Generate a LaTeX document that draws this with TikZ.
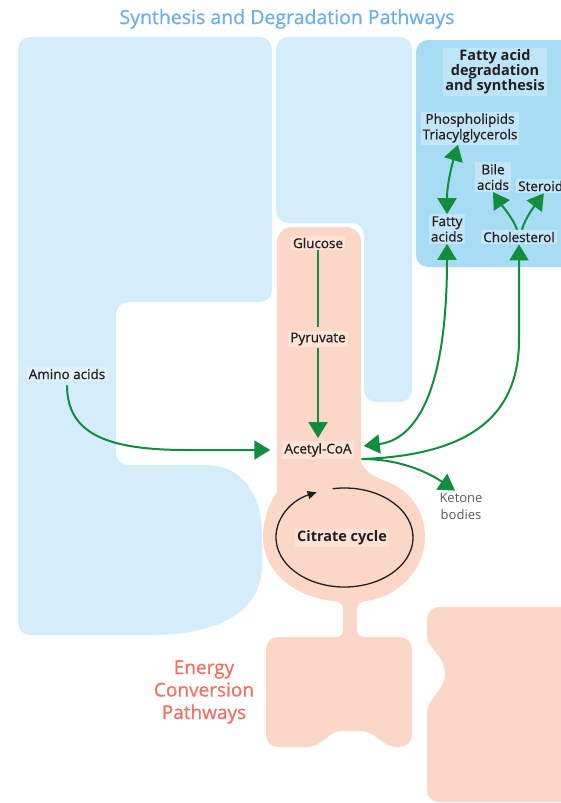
\documentclass[tikz,border=0pt]{standalone}
\usepackage{fontspec}
\setmainfont{Open Sans}
\newfontfamily\medfont[FakeBold=0.8]{Open Sans}
\usetikzlibrary{arrows.meta,positioning}

\definecolor{paleblue}{RGB}{213,236,250}
\definecolor{fabox}{RGB}{168,220,245}
\definecolor{salmon}{RGB}{251,215,200}
\definecolor{titleblue}{RGB}{108,176,226}
\definecolor{ecred}{RGB}{240,112,100}
\definecolor{flowgreen}{RGB}{16,142,62}
\definecolor{ink}{RGB}{35,31,32}
\definecolor{ketgrey}{RGB}{90,90,90}

\begin{document}
\begin{tikzpicture}
     [x=1pt, y=-1pt,
      every node/.style={text=ink, align=center, inner sep=2pt},
      lbl/.style={font=\medfont\fontsize{13.5}{15.5}\selectfont, fill=white, fill opacity=.3, text opacity=1},
      hdr/.style={font=\bfseries\fontsize{14.5}{15}\selectfont, fill=white, fill opacity=.25, text opacity=1},
      ttl/.style={font=\medfont\fontsize{19.5}{21}\selectfont, text=titleblue},
      ecp/.style={font=\medfont\fontsize{19}{22.5}\selectfont, text=ecred},
      ket/.style={font=\fontsize{13}{17}\selectfont, text=ketgrey},
      flow/.style={draw=flowgreen, line width=2pt},
      tip/.style={-{Triangle[length=16pt,width=19pt]}},
      tips/.style={{Triangle[length=16pt,width=19pt]}-{Triangle[length=16pt,width=19pt]}},
      cyc/.style={draw=ink, line width=1.3pt, -{Triangle[length=9pt,width=8pt]}}]
     %[semithick, x=1cm, y=1cm, >=latex]
   \useasboundingbox (0,0) rectangle (561,803);
   \clip (0,0) rectangle (561,803);

   % synthesis and degradation panels
   \fill[paleblue] (18,49) arc[start angle=180,end angle=270,radius=12] -- (260,37)
     arc[start angle=270,end angle=360,radius=12] -- (272,290)
     arc[start angle=0,end angle=90,radius=12] -- (128,302)
     arc[start angle=270,end angle=180,radius=12] -- (116,453)
     arc[start angle=180,end angle=90,radius=12] -- (205,465)
     .. controls (243,465) and (262,495) .. (262,535) -- (262,565)
     .. controls (262,612) and (218,635) .. (150,635) -- (30,635)
     arc[start angle=90,end angle=180,radius=12] -- cycle;
   \fill[paleblue] (276,49) arc[start angle=180,end angle=270,radius=12] -- (400,37)
     arc[start angle=270,end angle=360,radius=12] -- (412,390)
     arc[start angle=0,end angle=90,radius=12] -- (376,402)
     arc[start angle=90,end angle=180,radius=12] -- (364,235)
     arc[start angle=0,end angle=-90,radius=12] -- (288,223)
     arc[start angle=90,end angle=180,radius=12] -- cycle;
   \fill[fabox, rounded corners=12] (416,40) rectangle (600,267);

   % energy conversion panels
   \fill[salmon] (277,242) arc[start angle=180,end angle=270,radius=15] -- (346,227)
     arc[start angle=270,end angle=360,radius=15] -- (361,458)
     .. controls (361,470) and (372,476) .. (388,482)
     .. controls (412,492) and (425,512) .. (425,537)
     .. controls (425,572) and (395,598) .. (366,601)
     .. controls (359,602) and (357,605) .. (357,611) -- (357,629)
     .. controls (357,635) and (359,637) .. (366,637) -- (400,637)
     arc[start angle=270,end angle=360,radius=12] -- (412,735)
     arc[start angle=0,end angle=90,radius=12] -- (396,747)
     .. controls (382,747) and (376,731) .. (360,731) -- (342,731)
     .. controls (328,731) and (322,747) .. (308,747) -- (278,747)
     arc[start angle=90,end angle=180,radius=12] -- (266,649)
     arc[start angle=180,end angle=270,radius=12] -- (334,637)
     .. controls (341,637) and (343,635) .. (343,629) -- (343,611)
     .. controls (343,605) and (341,602) .. (334,601)
     .. controls (292,597) and (263,570) .. (263,537)
     .. controls (263,518) and (270,502) .. (277,492) -- cycle;
   \fill[salmon] (427,619) arc[start angle=180,end angle=270,radius=12] -- (600,607)
     -- (600,802) -- (439,802) arc[start angle=90,end angle=180,radius=12] -- (427,712)
     .. controls (427,700) and (445,690) .. (445,673)
     .. controls (445,656) and (427,648) .. (427,636) -- cycle;

   \node (TITLE) [ttl] at (287,19) {Synthesis and Degradation Pathways};
   \node (ECP) [ecp] at (204,692) {Energy\\Conversion\\Pathways};

   \node (GLU) [lbl] at (318,243) {Glucose};
   \node (PYR) [lbl] at (318,339) {Pyruvate};
   \node (ACOA) [lbl] at (318,450) {Acetyl-CoA};
   \node (AMINO) [lbl] at (67,374) {Amino acids};
   \node (KET) [ket] at (461,506) {Ketone\\bodies};
   \node (FAHEAD) [hdr] at (495,72) {Fatty acid\\degradation\\and synthesis};
   \node (PHOS) [lbl] at (470,128) {Phospholipids\\Triacylglycerols};
   \node (BILE) [lbl] at (493,177) {Bile\\acids};
   \node (STER) [lbl, anchor=west] at (516,186) {Steroids};
   \node (FATTY) [lbl] at (447,229) {Fatty\\acids};
   \node (CHOL) [lbl] at (519,237) {Cholesterol};

   % citrate cycle
   \coordinate (CYCC) at (344.5,537.5);
   \draw[cyc] ([shift={(-100:68.5 and 49.5)}]CYCC) arc[start angle=-100,end angle=246,x radius=68.5,y radius=49.5];
   \node (CIT) [hdr] at (342,538) {Citrate cycle};

   % green flows
   \draw[flow, shorten >=3pt] (GLU) -- (PYR);
   \draw[flow, tip, shorten >=3pt] (PYR) -- (ACOA);
   \draw[flow, tip, shorten <=4pt] (AMINO.south) .. controls +(0,55) and +(-75,0) .. ([xshift=-95pt]ACOA.west) -- ([xshift=-12pt]ACOA.west);
   \draw[flow, tips] (FATTY.south) .. controls +(0,172) and +(40,-5) .. ([shift={(10,-4)}]ACOA.east);
   \draw[flow, tip] ([shift={(8,9)}]ACOA.east) .. controls +(117,-4) and +(0,70) .. ([shift={(0,95)}]CHOL.south) -- (CHOL.south);
   \draw[flow, tip] ([shift={(8,9)}]ACOA.east) .. controls +(40,0) and +(-25,-17) .. ([xshift=-6pt]KET.north);
   \draw[flow, tips] (FATTY.north) .. controls +(0,-30) and +(-6,20) .. ([xshift=-12pt]PHOS.south);
   \draw[flow, tip] ([xshift=-2pt]CHOL.north) .. controls +(-3,-10) and +(8,12) .. (BILE.south);
   \draw[flow, tip] ([xshift=3pt]CHOL.north) .. controls +(3,-12) and +(-6,8) .. (STER.south);
   \end{tikzpicture}
\end{document}
